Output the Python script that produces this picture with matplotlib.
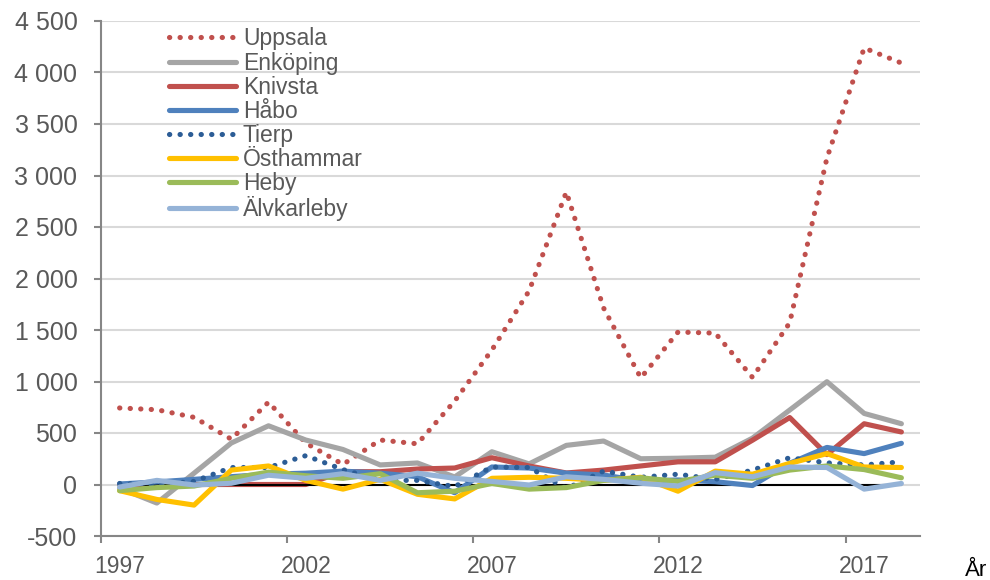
import numpy as np
import matplotlib
matplotlib.use("Agg")
import matplotlib.pyplot as plt
from matplotlib.ticker import FixedLocator, FuncFormatter

plt.rcParams['font.family'] = ['Liberation Sans', 'DejaVu Sans']

years = list(range(1997, 2019))
uppsala = [743, 726, 652, 440, 800, 403, 195, 432, 395, 810, 1306, 1880, 2840, 1714,
           1035, 1480, 1470, 1040, 1570, 3170, 4238, 4092]
enkoping = [-35, -180, 110, 403, 570, 432, 340, 190, 209, 73, 318, 200, 380, 422,
            250, 255, 265, 450, 723, 998, 690, 590]
knivsta = [0, 0, 0, 0, 0, 0, 125, 124, 150, 160, 260, 180, 112, 140, 180, 220, 220,
           430, 650, 290, 590, 510]
habo = [5, 25, 50, 76, 100, 110, 130, 110, 76, -80, 170, 160, 110, 92, 35, 44, 27,
        -10, 206, 360, 300, 400]
tierp = [10, 0, 30, 165, 165, 280, 145, 40, 40, -20, 170, 165, -40, 130, 70, 100, 50,
         140, 260, 210, 190, 220]
osthammar = [-60, -145, -200, 140, 180, 40, -45, 50, -95, -140, 60, 70, 60, 40, 70,
             -65, 130, 100, 205, 300, 170, 165]
heby = [-60, -30, -15, 60, 120, 85, 60, 105, -80, -65, 10, -45, -30, 40, 65, 30, 90,
        60, 140, 180, 145, 65]
alvkarleby = [-25, 40, -5, 12, 90, 60, 105, 40, 110, 60, 30, -5, 75, 50, 12, -15, 115,
              75, 170, 165, -45, 10]
zero_line = [0] * len(years)

y_ticks = list(range(-500, 5000, 500))
x_labels = [1997, 2002, 2007, 2012, 2017]

fig = plt.figure(figsize=(9.9, 5.8), dpi=100)
ax = fig.add_axes([101 / 990, 44 / 580, 819 / 990, 515 / 580])

lw = 3.7
dots = (0, (0.05, 2.0))
ax.plot(years, uppsala, color='#C0504D', lw=lw, ls=dots, dash_capstyle='round', label='Uppsala')
ax.plot(years, enkoping, color='#A5A5A5', lw=lw, solid_capstyle='round', label='Enköping')
ax.plot(years, knivsta, color='#C0504D', lw=lw, solid_capstyle='round', label='Knivsta')
ax.plot(years, zero_line, color='black', lw=1.5, label='_nolegend_')
ax.plot(years, habo, color='#4F81BD', lw=lw, solid_capstyle='round', label='Håbo')
ax.plot(years, tierp, color='#2C5D96', lw=lw, ls=dots, dash_capstyle='round', label='Tierp')
ax.plot(years, osthammar, color='#FFC000', lw=lw, solid_capstyle='round', label='Östhammar')
ax.plot(years, heby, color='#9BBB59', lw=lw, solid_capstyle='round', label='Heby')
ax.plot(years, alvkarleby, color='#95B3D7', lw=lw, solid_capstyle='round', label='Älvkarleby')

ax.set_xlim(1996.5, 2018.5)
ax.set_ylim(-500, 4500)
ax.set_yticks(y_ticks)
ax.yaxis.set_major_formatter(FuncFormatter(lambda v, p: f"{int(v):,}".replace(",", " ")))
ax.grid(axis='y', color='#D9D9D9', lw=1.5)
ax.set_axisbelow(True)

ax.xaxis.set_major_locator(FixedLocator([y - 0.5 for y in x_labels]))
ax.xaxis.set_minor_locator(FixedLocator(x_labels))
ax.xaxis.set_major_formatter(FuncFormatter(lambda v, p: ''))
ax.xaxis.set_minor_formatter(FuncFormatter(lambda v, p: str(int(v))))
ax.tick_params(axis='x', which='major', length=5, width=1.5, color='#868686', direction='out')
ax.tick_params(axis='x', which='minor', length=0, labelsize=16.5, labelcolor='#595959', pad=14)
ax.tick_params(axis='y', length=5, width=1.5, color='#868686', labelsize=18,
               labelcolor='#595959', pad=12)

for s in ['top', 'right']:
    ax.spines[s].set_visible(False)
for s in ['left', 'bottom']:
    ax.spines[s].set_color('#868686')
    ax.spines[s].set_linewidth(1.5)

leg = ax.legend(loc='upper left', bbox_to_anchor=(158 / 990, 1 - 16 / 580),
                bbox_transform=fig.transFigure, frameon=False, fontsize=16.5,
                handlelength=2.9, handletextpad=0.3, labelspacing=0.05, borderpad=0)
for t in leg.get_texts():
    t.set_color('#595959')

fig.text(965 / 990, 1 - 570 / 580, 'År', fontsize=16, color='black', va='center')

fig.savefig('out.png', dpi=100)
